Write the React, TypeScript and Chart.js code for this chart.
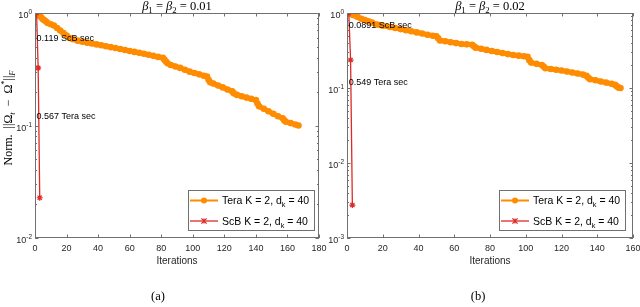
import React, { useEffect, useRef } from "react";
import { Chart, registerables } from "chart.js";

Chart.register(...registerables);

// ---------- data ----------
const teraAIter = [1, 2, 3, 4, 5, 6, 7, 8, 10, 12, 14, 16, 18, 20, 22, 24, 27, 30, 33, 36, 39, 42, 45, 48, 51, 54, 57, 60, 63, 66, 69, 72, 75, 78, 81, 82, 83, 84, 86, 89, 92, 95, 98, 101, 104, 107, 109, 110, 111, 113, 116, 119, 122, 125, 126, 128, 131, 134, 137, 140, 141, 142, 145, 148, 151, 154, 157, 158, 159, 162, 165, 167];
const teraAVal = [1.0, 0.97, 0.94, 0.91, 0.88, 0.86, 0.84, 0.815, 0.795, 0.775, 0.735, 0.70, 0.665, 0.63, 0.60, 0.585, 0.568, 0.555, 0.545, 0.535, 0.526, 0.517, 0.507, 0.497, 0.488, 0.478, 0.469, 0.46, 0.451, 0.443, 0.434, 0.425, 0.416, 0.407, 0.40, 0.385, 0.37, 0.358, 0.345, 0.335, 0.325, 0.313, 0.301, 0.293, 0.285, 0.277, 0.272, 0.255, 0.242, 0.236, 0.227, 0.218, 0.209, 0.201, 0.193, 0.187, 0.182, 0.177, 0.173, 0.168, 0.157, 0.148, 0.141, 0.134, 0.127, 0.121, 0.116, 0.111, 0.108, 0.105, 0.102, 0.10];
const scbAIter = [1, 2, 3];
const scbAVal = [1.0, 0.325, 0.0228];

const teraBIter = [1, 2, 3, 4, 6, 8, 10, 12, 14, 17, 20, 24, 27, 30, 33, 36, 39, 42, 45, 48, 50, 51, 52, 55, 58, 61, 64, 67, 70, 71, 72, 75, 78, 81, 84, 87, 90, 93, 96, 99, 101, 102, 103, 106, 109, 110, 111, 114, 117, 120, 123, 126, 129, 132, 134, 135, 136, 139, 142, 145, 148, 150, 151, 152, 153];
const teraBVal = [1.0, 0.975, 0.95, 0.93, 0.885, 0.84, 0.805, 0.774, 0.745, 0.70, 0.677, 0.65, 0.63, 0.61, 0.59, 0.57, 0.551, 0.532, 0.514, 0.498, 0.489, 0.46, 0.43, 0.42, 0.408, 0.397, 0.386, 0.382, 0.378, 0.36, 0.345, 0.333, 0.322, 0.312, 0.302, 0.292, 0.283, 0.275, 0.27, 0.265, 0.26, 0.235, 0.218, 0.21, 0.203, 0.193, 0.183, 0.179, 0.175, 0.171, 0.166, 0.161, 0.156, 0.151, 0.145, 0.137, 0.131, 0.127, 0.122, 0.118, 0.114, 0.11, 0.105, 0.101, 0.10];
const scbBIter = [1, 2, 3];
const scbBVal = [1.0, 0.236, 0.00275];

const xTicksA = [0, 20, 40, 60, 80, 100, 120, 140, 160, 180];
const xTicksB = [0, 20, 40, 60, 80, 100, 120, 140, 160];
const yExpA = [0, -1, -2];
const yExpB = [0, -1, -2, -3];

const seriesNames = ["Tera", "ScB"];
const titleValues = ["0.01", "0.02"];
const captions = ["(a)", "(b)"];
const annotTextA = ["0.119 ScB sec", "0.567 Tera sec"];
const annotYA = [0.59, 0.12];
const annotTextB = ["0.0891 ScB sec", "0.549 Tera sec"];
const annotYB = [0.69, 0.12];

// ---------- styles ----------
const ORANGE = "#ff8c00";
const RED = "#dc2a24";
const AXIS = "#262626";
const FRAME = "#707070";
const SANS = '"Liberation Sans", Arial, sans-serif';
const SERIF = '"Liberation Serif", "DejaVu Serif", serif';
const H = 307;

type Run = { t: string; it?: boolean; sub?: boolean; sup?: boolean };

function drawRuns(
  ctx: CanvasRenderingContext2D,
  runs: Run[],
  x: number,
  y: number,
  size: number,
  fam: string,
  align: "left" | "center" | "right"
) {
  const fontOf = (r: Run) =>
    `${r.it ? "italic " : ""}${r.sub || r.sup ? (size * 0.7).toFixed(1) : size}px ${fam}`;
  const ws = runs.map((r) => {
    ctx.font = fontOf(r);
    return ctx.measureText(r.t).width;
  });
  const total = ws.reduce((a, b) => a + b, 0);
  let cx = align === "center" ? x - total / 2 : align === "right" ? x - total : x;
  ctx.textAlign = "left";
  ctx.textBaseline = "alphabetic";
  runs.forEach((r, i) => {
    ctx.font = fontOf(r);
    const dy = r.sub ? size * 0.28 : r.sup ? -size * 0.4 : 0;
    ctx.fillText(r.t, cx, y + dy);
    cx += ws[i];
  });
}

type PanelCfg = {
  key: string;
  left: number;
  width: number;
  pad: { left: number; right: number; top: number; bottom: number };
  xMax: number;
  yMin: number;
  xTicks: number[];
  yExp: number[];
  tera: { x: number; y: number }[];
  scb: { x: number; y: number }[];
  annText: string[];
  annY: number[];
  title: string;
  caption: string;
  captionX: number;
  showYLabel: boolean;
  legendRight: number;
};

const zip = (xs: number[], ys: number[]) => xs.map((x, i) => ({ x, y: ys[i] }));

const panels: PanelCfg[] = [
  {
    key: "a",
    left: 0,
    width: 340,
    pad: { left: 35, right: 21, top: 13, bottom: H - 238 },
    xMax: 180,
    yMin: 0.01,
    xTicks: xTicksA,
    yExp: yExpA,
    tera: zip(teraAIter, teraAVal),
    scb: zip(scbAIter, scbAVal),
    annText: annotTextA,
    annY: annotYA,
    title: titleValues[0],
    caption: captions[0],
    captionX: 158,
    showYLabel: true,
    legendRight: 315,
  },
  {
    key: "b",
    left: 300,
    width: 340,
    pad: { left: 47, right: 7, top: 13, bottom: H - 238 },
    xMax: 160,
    yMin: 0.001,
    xTicks: xTicksB,
    yExp: yExpB,
    tera: zip(teraBIter, teraBVal),
    scb: zip(scbBIter, scbBVal),
    annText: annotTextB,
    annY: annotYB,
    title: titleValues[1],
    caption: captions[1],
    captionX: 178,
    showYLabel: false,
    legendRight: 326,
  },
];

function makeDecor(cfg: PanelCfg) {
  return {
    id: "decor" + cfg.key,
    afterDraw(chart: any) {
      const ctx: CanvasRenderingContext2D = chart.ctx;
      const ca = chart.chartArea;
      const xs = chart.scales.x;
      const ys = chart.scales.y;
      ctx.save();

      // frame
      ctx.strokeStyle = FRAME;
      ctx.lineWidth = 1;
      ctx.strokeRect(ca.left + 0.5, ca.top + 0.5, ca.right - ca.left - 1, ca.bottom - ca.top - 1);

      // x ticks
      ctx.strokeStyle = FRAME;
      ctx.beginPath();
      cfg.xTicks.forEach((v) => {
        const px = Math.round(xs.getPixelForValue(v)) + 0.5;
        ctx.moveTo(px, ca.bottom);
        ctx.lineTo(px, ca.bottom - 3.5);
        ctx.moveTo(px, ca.top);
        ctx.lineTo(px, ca.top + 3.5);
      });
      // y major ticks
      cfg.yExp.forEach((e) => {
        const py = Math.round(ys.getPixelForValue(Math.pow(10, e))) + 0.5;
        ctx.moveTo(ca.left, py);
        ctx.lineTo(ca.left + 3.5, py);
        ctx.moveTo(ca.right, py);
        ctx.lineTo(ca.right - 3.5, py);
      });
      // y minor ticks
      const minE = Math.min(...cfg.yExp);
      for (let e = minE; e < 0; e++) {
        for (let m = 2; m <= 9; m++) {
          const py = Math.round(ys.getPixelForValue(m * Math.pow(10, e))) + 0.5;
          ctx.moveTo(ca.left, py);
          ctx.lineTo(ca.left + 2, py);
          ctx.moveTo(ca.right, py);
          ctx.lineTo(ca.right - 2, py);
        }
      }
      ctx.stroke();

      // x tick labels
      ctx.fillStyle = AXIS;
      ctx.font = `9px ${SANS}`;
      ctx.textAlign = "center";
      ctx.textBaseline = "middle";
      cfg.xTicks.forEach((v) => {
        ctx.fillText(String(v), xs.getPixelForValue(v), 248.5);
      });

      // y tick labels 10^e
      cfg.yExp.forEach((e) => {
        const py = ys.getPixelForValue(Math.pow(10, e));
        const right = ca.left - 3;
        ctx.textAlign = "left";
        ctx.textBaseline = "alphabetic";
        ctx.font = `6.5px ${SANS}`;
        const es = String(e);
        const ew = ctx.measureText(es).width;
        ctx.font = `9px ${SANS}`;
        const bw = ctx.measureText("10").width;
        ctx.fillText("10", right - ew - bw, py + 5);
        ctx.font = `6.5px ${SANS}`;
        ctx.fillText(es, right - ew, py + 1);
      });

      // x axis label
      ctx.font = `10px ${SANS}`;
      ctx.textAlign = "center";
      ctx.textBaseline = "middle";
      ctx.fillText("Iterations", (ca.left + ca.right) / 2, 261.5);

      // title
      ctx.fillStyle = "#000";
      drawRuns(
        ctx,
        [
          { t: "β", it: true },
          { t: "1", sub: true },
          { t: " = " },
          { t: "β", it: true },
          { t: "2", sub: true },
          { t: " = " + cfg.title },
        ],
        (ca.left + ca.right) / 2,
        9.5,
        12.5,
        SERIF,
        "center"
      );

      // y label
      if (cfg.showYLabel) {
        ctx.save();
        ctx.translate(12, 118);
        ctx.rotate(-Math.PI / 2);
        drawRuns(
          ctx,
          [
            { t: "Norm.  " },
            { t: "||Ω" },
            { t: "t", it: true, sub: true },
            { t: "  −  Ω" },
            { t: "*", sup: true },
            { t: "||" },
            { t: "F", it: true, sub: true },
          ],
          0,
          0,
          12,
          SERIF,
          "center"
        );
        ctx.restore();
      }

      // annotations
      ctx.fillStyle = "#000";
      ctx.font = `9px ${SANS}`;
      ctx.textAlign = "left";
      ctx.textBaseline = "middle";
      cfg.annText.forEach((t, i) => {
        ctx.fillText(t, xs.getPixelForValue(1), ys.getPixelForValue(cfg.annY[i]));
      });

      // legend
      const bw = 127;
      const bh = 41;
      const bx = cfg.legendRight - bw;
      const by = 231 - bh;
      ctx.fillStyle = "#fff";
      ctx.fillRect(bx, by, bw, bh);
      ctx.strokeStyle = FRAME;
      ctx.lineWidth = 1;
      ctx.strokeRect(bx + 0.5, by + 0.5, bw - 1, bh - 1);
      const rows = [
        { name: seriesNames[0], color: ORANGE, lw: 2, marker: "circle" },
        { name: seriesNames[1], color: RED, lw: 1.3, marker: "star" },
      ];
      rows.forEach((r, i) => {
        const ry = by + 10.5 + i * 20.5;
        ctx.strokeStyle = r.color;
        ctx.lineWidth = r.lw;
        ctx.beginPath();
        ctx.moveTo(bx + 2, ry);
        ctx.lineTo(bx + 30, ry);
        ctx.stroke();
        const mx = bx + 16;
        if (r.marker === "circle") {
          ctx.fillStyle = r.color;
          ctx.beginPath();
          ctx.arc(mx, ry, 3, 0, Math.PI * 2);
          ctx.fill();
        } else {
          ctx.lineWidth = 1.2;
          ctx.beginPath();
          const s = 2.6;
          ctx.moveTo(mx - s, ry - s);
          ctx.lineTo(mx + s, ry + s);
          ctx.moveTo(mx - s, ry + s);
          ctx.lineTo(mx + s, ry - s);
          ctx.moveTo(mx, ry - s);
          ctx.lineTo(mx, ry + s);
          ctx.stroke();
        }
        ctx.fillStyle = "#000";
        drawRuns(
          ctx,
          [{ t: `${r.name} K = 2, d` }, { t: "k", sub: true }, { t: " = 40" }],
          bx + 34,
          ry + 3.7,
          10.5,
          SANS,
          "left"
        );
      });

      // caption
      ctx.fillStyle = "#000";
      ctx.font = `12.5px ${SERIF}`;
      ctx.textAlign = "center";
      ctx.textBaseline = "middle";
      ctx.fillText(cfg.caption, cfg.captionX, 297);

      ctx.restore();
    },
  };
}

function Panel({ cfg }: { cfg: PanelCfg }) {
  const ref = useRef<HTMLCanvasElement>(null);
  useEffect(() => {
    const chart = new Chart(ref.current as HTMLCanvasElement, {
      type: "line",
      data: {
        datasets: [
          {
            label: seriesNames[1],
            data: cfg.scb,
            borderColor: RED,
            backgroundColor: RED,
            borderWidth: 1.3,
            pointStyle: "star",
            pointRadius: 3,
            pointBorderColor: RED,
            pointBorderWidth: 1.2,
            tension: 0,
          },
          {
            label: seriesNames[0],
            data: cfg.tera,
            borderColor: ORANGE,
            backgroundColor: ORANGE,
            borderWidth: 5,
            borderJoinStyle: "round",
            borderCapStyle: "round",
            pointStyle: "circle",
            pointRadius: 3.3,
            pointBorderWidth: 0,
            pointBackgroundColor: ORANGE,
            tension: 0,
          },
        ],
      } as any,
      options: {
        animation: false,
        responsive: false,
        events: [],
        layout: { padding: cfg.pad },
        scales: {
          x: { type: "linear", display: false, min: 0, max: cfg.xMax },
          y: { type: "logarithmic", display: false, min: cfg.yMin, max: 1 },
        },
        plugins: {
          legend: { display: false },
          tooltip: { enabled: false },
          title: { display: false },
        },
      } as any,
      plugins: [makeDecor(cfg)],
    });
    return () => chart.destroy();
  }, [cfg]);
  return (
    <canvas
      ref={ref}
      width={cfg.width}
      height={H}
      style={{ position: "absolute", left: cfg.left, top: 0, width: cfg.width, height: H }}
    />
  );
}

export default function App() {
  return (
    <div
      style={{
        position: "absolute",
        left: 0,
        top: 0,
        width: 640,
        height: H,
        overflow: "hidden",
        background: "#fff",
      }}
    >
      {panels.map((p) => (
        <Panel key={p.key} cfg={p} />
      ))}
    </div>
  );
}
